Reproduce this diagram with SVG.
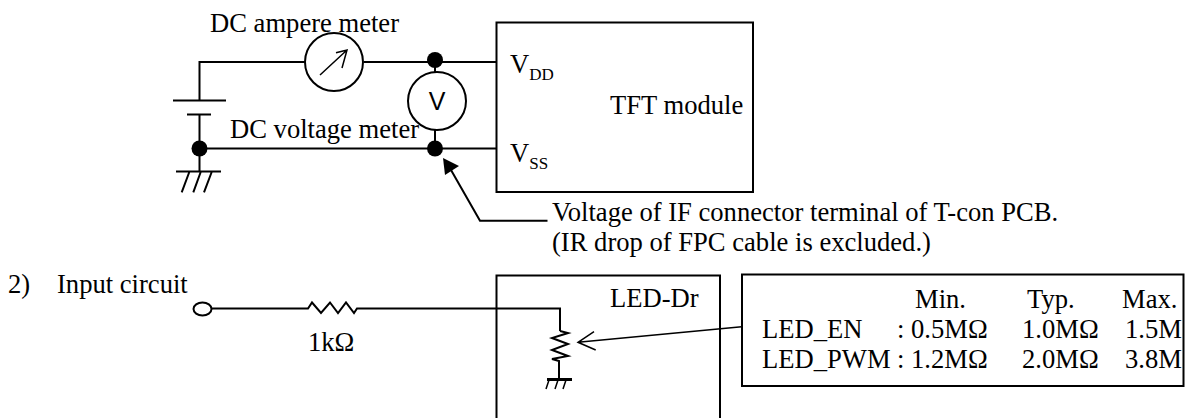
<svg xmlns="http://www.w3.org/2000/svg" width="1185" height="418" viewBox="0 0 1185 418">
<style>
text{font-family:"Liberation Serif","Times New Roman",serif;font-size:26.6px;fill:#000}
.sub{font-size:17px}
.w{fill:none;stroke:#000;stroke-width:2}
.t{fill:none;stroke:#000;stroke-width:1.5}
.c{fill:#fff;stroke:#000;stroke-width:2}
.d{fill:#000}
</style>
<defs><clipPath id="page"><rect x="0" y="0" width="1183" height="418"/></clipPath></defs>
<rect width="1185" height="418" fill="#fff"/>
<g id="connectors">
<path class="w" d="M305 62H199.5V100.5M173 100.5H226M187 114.5H211M199.5 114.5V171.5M176 171.5H221M189.3 172L181.7 192.3M200.7 172L193.3 192.3M211.7 172L204 192.3"/>
<path class="w" d="M364 62H496.5M199.5 148.5H496.5M435 60V73M435 129V148.5"/>
<path class="w" d="M547.5 220.7H480L451 170"/>
<path class="d" d="M443 158L445 175L459 166Z"/>
<path class="w" d="M212 308.5H308L312 302.5L321 313L330 302.5L338 313L346 302.5L354 313L357 308.5H560V331"/>
<path class="w" d="M560 331L568 333L552 338L568 344L552 350L568 356L552 359L559 361V379"/>
<path class="w" d="M547 379.5H572" style="stroke-width:3"/>
<path class="t" d="M549 380L546 389M558 380L555 389M566 380L563 389"/>
<path class="t" d="M741.7 326.7L578 342.3M594 331.7L578 342.3L595.7 350"/>
</g>
<g id="battery-dot"><circle class="d" cx="199.5" cy="148.5" r="8"/></g>
<g id="dot-top"><circle class="d" cx="435" cy="60" r="8"/></g>
<g id="dot-bottom"><circle class="d" cx="435" cy="148.5" r="8"/></g>
<g id="ammeter">
<circle class="c" cx="334" cy="62" r="29"/>
<path class="t" d="M320 75L347 50M336 52.7L347 50L342 68"/>
<text x="210" y="32">DC ampere meter</text>
</g>
<g id="voltmeter">
<circle class="c" cx="437" cy="101" r="29"/>
<text x="437" y="110" text-anchor="middle" style="font-family:'Liberation Sans',Arial,sans-serif;font-size:25px">V</text>
<text x="230" y="138">DC voltage meter</text>
</g>
<g id="tft-module">
<rect class="w" x="496.5" y="22.5" width="256.5" height="169.5"/>
<text x="510" y="73">V<tspan class="sub" dy="7">DD</tspan></text>
<text x="510" y="162">V<tspan class="sub" dy="7">SS</tspan></text>
<text x="610" y="114">TFT module</text>
</g>
<g id="note">
<text x="552" y="220.5">Voltage of IF connector terminal of T-con PCB.</text>
<text x="552" y="251">(IR drop of FPC cable is excluded.)</text>
</g>
<g id="input">
<text x="8" y="293">2)</text><text x="57" y="293">Input circuit</text>
<ellipse class="c" cx="202.5" cy="309" rx="9" ry="6.5"/>
<text x="308" y="351">1kΩ</text>
</g>
<g id="led-dr">
<path class="w" d="M496.5 418V275.5H720V418"/>
<text x="610" y="307">LED-Dr</text>
</g>
<g id="table">
<rect class="w" x="742" y="274.5" width="441.5" height="111.5"/>
<g clip-path="url(#page)">
<text x="915" y="308">Min.</text><text x="1027" y="308">Typ.</text><text x="1122" y="308">Max.</text>
<text x="762" y="338">LED_EN</text><text x="897" y="338">: 0.5MΩ</text><text x="1022" y="338">1.0MΩ</text><text x="1125" y="338">1.5MΩ</text>
<text x="762" y="368">LED_PWM</text><text x="897" y="368">: 1.2MΩ</text><text x="1022" y="368">2.0MΩ</text><text x="1125" y="368">3.8MΩ</text>
</g>
</g>
</svg>
